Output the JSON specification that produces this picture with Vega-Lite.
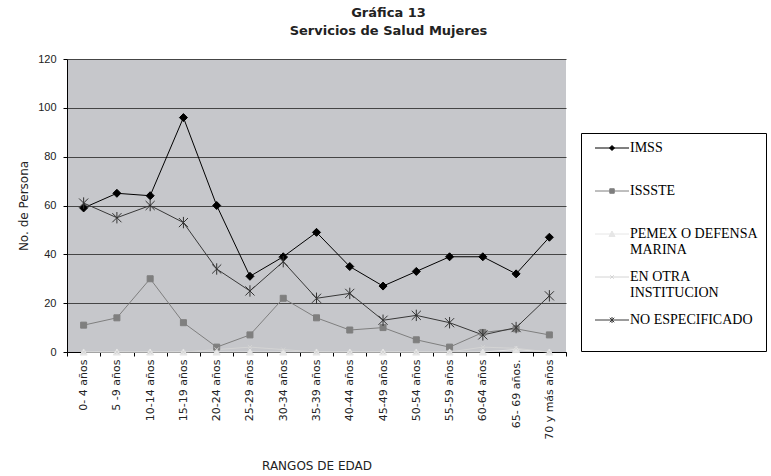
{
  "$schema": "https://vega.github.io/schema/vega-lite/v6.json",
  "width": 499,
  "height": 293,
  "autosize": {"type": "none"},
  "padding": {"left": 67, "top": 59, "right": 205, "bottom": 124},
  "background": "white",
  "title": {
    "text": ["Gráfica 13", "Servicios de Salud Mujeres"],
    "font": "DejaVu Sans",
    "fontSize": 13,
    "fontWeight": "bold",
    "color": "#222222",
    "lineHeight": 18,
    "anchor": "middle",
    "dx": 72,
    "offset": 15
  },
  "data": {
    "values": [
      {"g": "0- 4 años", "s": "IMSS", "v": 59},
      {"g": "5 -9 años", "s": "IMSS", "v": 65},
      {"g": "10-14 años", "s": "IMSS", "v": 64},
      {"g": "15-19 años", "s": "IMSS", "v": 96},
      {"g": "20-24 años", "s": "IMSS", "v": 60},
      {"g": "25-29 años", "s": "IMSS", "v": 31},
      {"g": "30-34 años", "s": "IMSS", "v": 39},
      {"g": "35-39 años", "s": "IMSS", "v": 49},
      {"g": "40-44 años", "s": "IMSS", "v": 35},
      {"g": "45-49 años", "s": "IMSS", "v": 27},
      {"g": "50-54 años", "s": "IMSS", "v": 33},
      {"g": "55-59 años", "s": "IMSS", "v": 39},
      {"g": "60-64 años", "s": "IMSS", "v": 39},
      {"g": "65- 69 años.", "s": "IMSS", "v": 32},
      {"g": "70 y más años", "s": "IMSS", "v": 47},
      {"g": "0- 4 años", "s": "ISSSTE", "v": 11},
      {"g": "5 -9 años", "s": "ISSSTE", "v": 14},
      {"g": "10-14 años", "s": "ISSSTE", "v": 30},
      {"g": "15-19 años", "s": "ISSSTE", "v": 12},
      {"g": "20-24 años", "s": "ISSSTE", "v": 2},
      {"g": "25-29 años", "s": "ISSSTE", "v": 7},
      {"g": "30-34 años", "s": "ISSSTE", "v": 22},
      {"g": "35-39 años", "s": "ISSSTE", "v": 14},
      {"g": "40-44 años", "s": "ISSSTE", "v": 9},
      {"g": "45-49 años", "s": "ISSSTE", "v": 10},
      {"g": "50-54 años", "s": "ISSSTE", "v": 5},
      {"g": "55-59 años", "s": "ISSSTE", "v": 2},
      {"g": "60-64 años", "s": "ISSSTE", "v": 8},
      {"g": "65- 69 años.", "s": "ISSSTE", "v": 9.5},
      {"g": "70 y más años", "s": "ISSSTE", "v": 7},
      {"g": "0- 4 años", "s": "PEMEX O DEFENSA MARINA", "v": 0},
      {"g": "5 -9 años", "s": "PEMEX O DEFENSA MARINA", "v": 0},
      {"g": "10-14 años", "s": "PEMEX O DEFENSA MARINA", "v": 0},
      {"g": "15-19 años", "s": "PEMEX O DEFENSA MARINA", "v": 0},
      {"g": "20-24 años", "s": "PEMEX O DEFENSA MARINA", "v": 0},
      {"g": "25-29 años", "s": "PEMEX O DEFENSA MARINA", "v": 0},
      {"g": "30-34 años", "s": "PEMEX O DEFENSA MARINA", "v": 0},
      {"g": "35-39 años", "s": "PEMEX O DEFENSA MARINA", "v": 0},
      {"g": "40-44 años", "s": "PEMEX O DEFENSA MARINA", "v": 0},
      {"g": "45-49 años", "s": "PEMEX O DEFENSA MARINA", "v": 0},
      {"g": "50-54 años", "s": "PEMEX O DEFENSA MARINA", "v": 0},
      {"g": "55-59 años", "s": "PEMEX O DEFENSA MARINA", "v": 0},
      {"g": "60-64 años", "s": "PEMEX O DEFENSA MARINA", "v": 0},
      {"g": "65- 69 años.", "s": "PEMEX O DEFENSA MARINA", "v": 1},
      {"g": "70 y más años", "s": "PEMEX O DEFENSA MARINA", "v": 0},
      {"g": "0- 4 años", "s": "EN OTRA INSTITUCION", "v": 0},
      {"g": "5 -9 años", "s": "EN OTRA INSTITUCION", "v": 0},
      {"g": "10-14 años", "s": "EN OTRA INSTITUCION", "v": 0},
      {"g": "15-19 años", "s": "EN OTRA INSTITUCION", "v": 0},
      {"g": "20-24 años", "s": "EN OTRA INSTITUCION", "v": 1},
      {"g": "25-29 años", "s": "EN OTRA INSTITUCION", "v": 2},
      {"g": "30-34 años", "s": "EN OTRA INSTITUCION", "v": 1},
      {"g": "35-39 años", "s": "EN OTRA INSTITUCION", "v": 0},
      {"g": "40-44 años", "s": "EN OTRA INSTITUCION", "v": 0},
      {"g": "45-49 años", "s": "EN OTRA INSTITUCION", "v": 0},
      {"g": "50-54 años", "s": "EN OTRA INSTITUCION", "v": 0},
      {"g": "55-59 años", "s": "EN OTRA INSTITUCION", "v": 0},
      {"g": "60-64 años", "s": "EN OTRA INSTITUCION", "v": 2},
      {"g": "65- 69 años.", "s": "EN OTRA INSTITUCION", "v": 1.5},
      {"g": "70 y más años", "s": "EN OTRA INSTITUCION", "v": 0},
      {"g": "0- 4 años", "s": "NO ESPECIFICADO", "v": 61},
      {"g": "5 -9 años", "s": "NO ESPECIFICADO", "v": 55},
      {"g": "10-14 años", "s": "NO ESPECIFICADO", "v": 60},
      {"g": "15-19 años", "s": "NO ESPECIFICADO", "v": 53},
      {"g": "20-24 años", "s": "NO ESPECIFICADO", "v": 34},
      {"g": "25-29 años", "s": "NO ESPECIFICADO", "v": 25},
      {"g": "30-34 años", "s": "NO ESPECIFICADO", "v": 37},
      {"g": "35-39 años", "s": "NO ESPECIFICADO", "v": 22},
      {"g": "40-44 años", "s": "NO ESPECIFICADO", "v": 24},
      {"g": "45-49 años", "s": "NO ESPECIFICADO", "v": 13},
      {"g": "50-54 años", "s": "NO ESPECIFICADO", "v": 15},
      {"g": "55-59 años", "s": "NO ESPECIFICADO", "v": 12},
      {"g": "60-64 años", "s": "NO ESPECIFICADO", "v": 7},
      {"g": "65- 69 años.", "s": "NO ESPECIFICADO", "v": 10},
      {"g": "70 y más años", "s": "NO ESPECIFICADO", "v": 23}
    ]
  },
  "encoding": {
    "x": {
      "field": "g",
      "type": "nominal",
      "sort": null,
      "scale": {
        "type": "band",
        "paddingInner": 0,
        "paddingOuter": 0,
        "domain": ["0- 4 años", "5 -9 años", "10-14 años", "15-19 años", "20-24 años", "25-29 años", "30-34 años", "35-39 años", "40-44 años", "45-49 años", "50-54 años", "55-59 años", "60-64 años", "65- 69 años.", "70 y más años"]
      },
      "axis": {
        "title": "RANGOS DE EDAD",
        "titleFont": "DejaVu Sans",
        "titleFontSize": 12,
        "titleFontWeight": "normal",
        "titleColor": "#222222",
        "titlePadding": 21,
        "labelAngle": -90,
        "labelFont": "DejaVu Sans",
        "labelFontSize": 11,
        "labelColor": "#222222",
        "labelPadding": 3,
        "labelLimit": 200,
        "tickBand": "extent",
        "tickSize": 4,
        "tickColor": "#000000",
        "domainColor": "#000000",
        "grid": false
      }
    },
    "y": {
      "field": "v",
      "type": "quantitative",
      "scale": {"domain": [0, 120], "nice": false},
      "axis": {
        "title": "No. de Persona",
        "titleFont": "DejaVu Sans",
        "titleFontSize": 12,
        "titleFontWeight": "normal",
        "titleColor": "#222222",
        "titlePadding": 7,
        "values": [0, 20, 40, 60, 80, 100, 120],
        "labelFont": "Liberation Sans",
        "labelFontSize": 11,
        "labelColor": "#222222",
        "labelPadding": 7,
        "tickSize": 4,
        "tickColor": "#000000",
        "domainColor": "#000000",
        "grid": true,
        "gridColor": "#454545",
        "gridOpacity": 1,
        "gridWidth": 1
      }
    }
  },
  "layer": [
    {
      "mark": {"type": "line", "strokeWidth": 1},
      "encoding": {
        "color": {
          "field": "s",
          "type": "nominal",
          "scale": {
            "domain": ["IMSS", "ISSSTE", "PEMEX O DEFENSA MARINA", "EN OTRA INSTITUCION", "NO ESPECIFICADO"],
            "range": ["#000000", "#7f7f7f", "#e6e6e6", "#d4d4d4", "#383838"]
          },
          "legend": {
            "title": null,
            "orient": "none",
            "legendX": 514,
            "legendY": 74,
            "padding": 8,
            "strokeColor": "#000000",
            "fillColor": "#ffffff",
            "labelFont": "Liberation Serif",
            "labelFontSize": 14,
            "labelFontWeight": "normal",
            "labelColor": "#000000",
            "labelLimit": 300,
            "labelOffset": 11,
            "symbolOffset": 16,
            "symbolSize": 100,
            "symbolOpacity": 1,
            "symbolStrokeWidth": 1,
            "rowPadding": 13,
            "labelExpr": "datum.label == 'PEMEX O DEFENSA MARINA' ? ['PEMEX O DEFENSA', 'MARINA'] : datum.label == 'EN OTRA INSTITUCION' ? ['EN OTRA', 'INSTITUCION'] : [datum.label, ' ']"
          }
        }
      }
    },
    {
      "mark": {"type": "point", "filled": true, "opacity": 0, "strokeWidth": 1},
      "encoding": {
        "color": {"field": "s", "type": "nominal"},
        "shape": {
          "field": "s",
          "type": "nominal",
          "scale": {
            "domain": ["IMSS", "ISSSTE", "PEMEX O DEFENSA MARINA", "EN OTRA INSTITUCION", "NO ESPECIFICADO"],
            "range": [
              "M-3.4,0H3.4M0,-0.5L0.5,0L0,0.5L-0.5,0Z",
              "M-3.4,0H3.4M-0.45,-0.45H0.45V0.45H-0.45Z",
              "M-3.4,0H3.4M0,-0.6L0.6,0.5H-0.6Z",
              "M-3.4,0H3.4M-0.35,-0.35L0.35,0.35M-0.35,0.35L0.35,-0.35",
              "M-3.4,0H3.4M-0.45,-0.45L0.45,0.45M-0.45,0.45L0.45,-0.45M0,-0.6V0.6"
            ]
          },
          "legend": null
        }
      }
    },
    {
      "transform": [{"filter": "datum.s == 'IMSS'"}],
      "mark": {"type": "point", "shape": "diamond", "size": 64, "filled": true, "fill": "#000000", "stroke": "#000000", "strokeWidth": 1, "opacity": 1}
    },
    {
      "transform": [{"filter": "datum.s == 'ISSSTE'"}],
      "mark": {"type": "point", "shape": "square", "size": 36, "filled": true, "fill": "#7f7f7f", "stroke": "#7f7f7f", "strokeWidth": 1, "opacity": 1}
    },
    {
      "transform": [{"filter": "datum.s == 'PEMEX O DEFENSA MARINA'"}],
      "mark": {"type": "point", "shape": "triangle-up", "size": 50, "filled": true, "fill": "#e6e6e6", "stroke": "#e6e6e6", "strokeWidth": 1, "opacity": 1}
    },
    {
      "transform": [{"filter": "datum.s == 'EN OTRA INSTITUCION'"}],
      "mark": {"type": "point", "shape": "M-0.7,-0.7L0.7,0.7M-0.7,0.7L0.7,-0.7", "size": 36, "filled": false, "stroke": "#d4d4d4", "strokeWidth": 1, "opacity": 1}
    },
    {
      "transform": [{"filter": "datum.s == 'NO ESPECIFICADO'"}],
      "mark": {"type": "point", "shape": "M-0.8,-0.8L0.8,0.8M-0.8,0.8L0.8,-0.8M0,-1V1", "size": 130, "filled": false, "stroke": "#333333", "strokeWidth": 1, "opacity": 1}
    }
  ],
  "config": {
    "view": {"fill": "#c6c7cb", "stroke": null},
    "axis": {"domainWidth": 1, "tickWidth": 1}
  }
}
